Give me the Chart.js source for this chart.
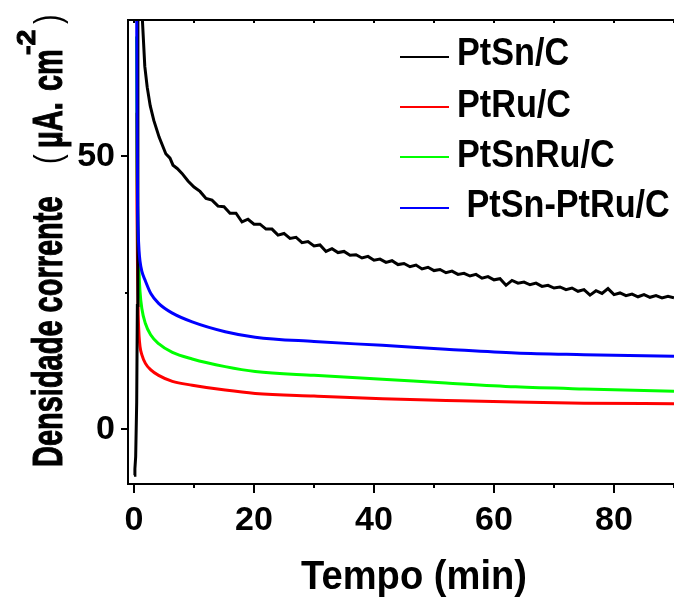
<!DOCTYPE html>
<html>
<head>
<meta charset="utf-8">
<script src="https://cdn.jsdelivr.net/npm/chart.js@4.4.1/dist/chart.umd.min.js"></script>
<style>
  body { margin: 0; background: #fff; }
  #wrap { width: 674px; height: 597px; }
</style>
</head>
<body>
<div id="wrap"><canvas id="grafico"></canvas></div>
<script>
// Dados (cronoamperometria)
const rotulos = ['PtSn/C', 'PtRu/C', 'PtSnRu/C', ' PtSn-PtRu/C'];
const cores = ['#000000', '#ff0000', '#00ff00', '#0000ff'];

// tempo (min) para as curvas coloridas
const tempoCores = [0.42, 0.5, 0.6, 0.7, 0.85, 1.0, 1.3, 1.9, 2.8, 4.1, 6.4, 9.7, 15.2, 20.2, 30, 41.4, 52, 63.6, 75, 90];
const ptRu     = [58, 40, 28, 21, 17, 15.2, 13.7, 12.1, 10.9, 9.9, 8.8, 8.1, 7.2, 6.6, 6.1, 5.6, 5.3, 5.0, 4.8, 4.7];
const ptSnRu   = [72, 50, 40, 34, 28.5, 25.3, 22.2, 19.4, 17.3, 15.7, 14.1, 12.9, 11.5, 10.6, 9.9, 9.2, 8.5, 7.8, 7.4, 7.0];
const ptSnPtRu = [88, 58, 41, 36, 32.6, 30.8, 29, 27.2, 24.9, 23.1, 21.3, 19.7, 17.9, 16.9, 16.1, 15.4, 14.7, 14.0, 13.7, 13.4];

// tempo (min) e corrente para PtSn/C (curva com ruído)
const tempoPtSn = [0, 0.15, 0.28, 0.45, 0.56, 0.65, 1.0, 1.4, 1.8, 2.2, 2.7, 3.3, 4.2, 5.3, 6.0, 6.5, 7.2, 8, 9,
  10, 11, 12, 13, 14, 15, 16, 17, 18, 19, 20, 21, 22, 23, 24, 25, 26, 27, 28, 29,
  30, 31, 32, 33, 34, 35, 36, 37, 38, 39, 40, 41, 42, 43, 44, 45, 46, 47, 48, 49,
  50, 51, 52, 53, 54, 55, 56, 57, 58, 59, 60, 61, 62, 63, 64, 65, 66, 67, 68, 69,
  70, 71, 72, 73, 74, 75, 76, 77, 78, 79, 80, 81, 82, 83, 84, 85, 86, 87, 88, 89, 90];
const ptSn = [-8.4, -7.2, -5, 5, 22.7, 80, 95, 75, 66.5, 62.7, 59.3, 56.6, 53.5, 50.5, 49.7, 48.4, 47.8, 46.9, 45.5,
  44.4, 43.6, 42.3, 42.0, 40.9, 40.8, 39.6, 39.6, 38.0, 38.5, 37.6, 37.6, 36.7, 36.7, 35.6, 35.9, 35.0, 35.2, 34.2, 34.4,
  33.6, 33.8, 32.6, 33.1, 32.4, 32.6, 31.9, 32.0, 31.4, 31.7, 31.0, 31.2, 30.6, 30.9, 30.2, 30.4, 29.8, 30.1, 29.4, 29.7,
  29.1, 29.3, 28.7, 29.0, 28.4, 28.6, 28.1, 28.4, 27.7, 28.0, 27.4, 27.6, 26.4, 27.3, 26.8, 27.0, 26.5, 26.8, 26.2, 26.4,
  25.9, 26.1, 25.6, 25.9, 25.3, 25.6, 24.6, 25.4, 24.9, 25.8, 24.7, 25.0, 24.5, 24.8, 24.3, 24.7, 24.2, 24.5, 24.1, 24.4, 24.1];

const ticksX = [0, 20, 40, 60, 80];
const ticksY = [0, 50];

function pares(xs, ys) {
  return xs.map((x, i) => ({ x: x, y: ys[i] }));
}

const fonteTick = { family: '"Liberation Sans", Arial, sans-serif', size: 34, weight: 'bold' };

// eixos, ticks, títulos e legenda
const moldura = {
  id: 'moldura',
  afterDraw(chart) {
    const ctx = chart.ctx;
    const a = chart.chartArea;
    const sx = chart.scales.x, sy = chart.scales.y;
    ctx.save();
    ctx.strokeStyle = '#000';
    ctx.lineWidth = 2;
    ctx.beginPath();
    ctx.moveTo(a.left - 1, a.top); ctx.lineTo(a.right, a.top);
    for (let v = 0; v <= 90; v += 10) {
      const px = Math.round(sx.getPixelForValue(v));
      const maior = v % 20 === 0;
      ctx.moveTo(px, a.bottom); ctx.lineTo(px, a.bottom + (maior ? 9 : 4));
      ctx.moveTo(px, a.top); ctx.lineTo(px, a.top + 3);
    }
    [0, 25, 50].forEach(v => {
      const py = Math.round(sy.getPixelForValue(v));
      ctx.moveTo(a.left, py); ctx.lineTo(a.left - (v % 50 === 0 ? 7 : 3), py);
    });
    ctx.stroke();

    // título do eixo x
    ctx.fillStyle = '#000';
    ctx.save();
    ctx.translate(414, 589);
    ctx.scale(0.93, 1);
    ctx.font = 'bold 41px "Liberation Sans", Arial, sans-serif';
    ctx.textAlign = 'center';
    ctx.textBaseline = 'alphabetic';
    ctx.fillText('Tempo (min)', 0, 0);
    ctx.restore();

    // título do eixo y
    ctx.save();
    ctx.translate(62, 467);
    ctx.rotate(-Math.PI / 2);
    ctx.textBaseline = 'alphabetic';
    ctx.strokeStyle = '#000';
    ctx.lineWidth = 1;
    const parte = (txt, tx, ty, fonte, esc, grosso) => {
      ctx.save();
      ctx.translate(tx, ty);
      ctx.scale(esc, 1);
      ctx.font = fonte;
      ctx.fillText(txt, 0, 0);
      if (grosso) ctx.strokeText(txt, 0, 0);
      ctx.restore();
    };
    const negrito = 'bold 42px "Liberation Sans", Arial, sans-serif';
    parte('Densidade corrente', 0, 0, negrito, 0.69, true);
    parte('(', 303, -2, '36px "Liberation Sans", Arial, sans-serif', 0.8, false);
    parte('\u00b5A.', 319, 0, negrito, 0.69, true);
    parte('cm', 376, 0, negrito, 0.69, true);
    parte('-2', 412, -27, 'bold 26px "Liberation Sans", Arial, sans-serif', 1.1, true);
    parte(')', 443, -2, '36px "Liberation Sans", Arial, sans-serif', 0.8, false);
    ctx.restore();

    // legenda
    const linhas = [57, 107, 157, 208];
    const bases = [65, 117, 167, 217];
    chart.data.datasets.forEach((ds, i) => {
      ctx.strokeStyle = ds.borderColor;
      ctx.lineWidth = 2;
      ctx.beginPath();
      ctx.moveTo(400, linhas[i]); ctx.lineTo(449, linhas[i]);
      ctx.stroke();
      ctx.save();
      ctx.translate(457, bases[i]);
      ctx.scale(0.9, 1);
      ctx.font = 'bold 38px "Liberation Sans", Arial, sans-serif';
      ctx.fillStyle = '#000';
      ctx.fillText(ds.label, 0, 0);
      ctx.restore();
    });
    ctx.restore();
  }
};

const series = [ptSn, ptRu, ptSnRu, ptSnPtRu];
const datasets = series.map((s, i) => ({
  label: rotulos[i],
  data: i === 0 ? pares(tempoPtSn, s) : pares(tempoCores, s),
  borderColor: cores[i],
  borderWidth: 3,
  pointRadius: 0,
  fill: false,
  tension: 0,
  cubicInterpolationMode: i === 0 ? 'default' : 'monotone',
  order: [1, 3, 2, 0][i]
}));

new Chart(document.getElementById('grafico'), {
  type: 'line',
  data: { datasets: datasets },
  options: {
    responsive: true,
    maintainAspectRatio: false,
    animation: false,
    layout: { padding: { top: 20, left: 0, right: 0, bottom: 0 } },
    plugins: { legend: { display: false }, tooltip: { enabled: false } },
    scales: {
      x: {
        type: 'linear',
        min: -1,
        max: 90,
        afterBuildTicks: s => { s.ticks = ticksX.map(v => ({ value: v })); },
        afterFit: s => { s.height = 113; s.paddingLeft = 0; s.paddingRight = 0; },
        grid: { display: false, drawTicks: false },
        border: { display: true, color: '#000', width: 2 },
        ticks: { color: '#000', font: fonteTick, padding: 16, maxRotation: 0 }
      },
      y: {
        type: 'linear',
        min: -10,
        max: 75,
        afterBuildTicks: s => { s.ticks = ticksY.map(v => ({ value: v })); },
        afterFit: s => { s.width = 128; s.paddingTop = 0; s.paddingBottom = 0; },
        grid: { display: false, drawTicks: false },
        border: { display: true, color: '#000', width: 2 },
        ticks: { color: '#000', font: fonteTick, padding: 13 }
      }
    }
  },
  plugins: [moldura]
});
</script>
</body>
</html>
